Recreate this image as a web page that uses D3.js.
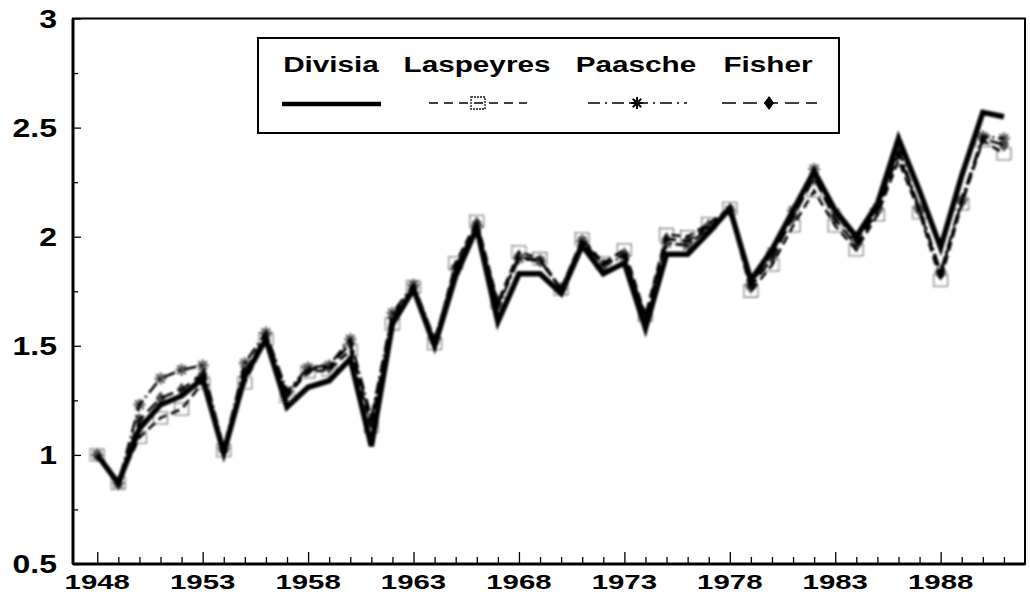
<!DOCTYPE html>
<html>
<head>
<meta charset="utf-8">
<script src="https://cdn.jsdelivr.net/npm/d3@7"></script>
<style>
  body { margin: 0; background: #fff; }
  svg { display: block; }
  text { font-family: 'Liberation Sans', Arial, sans-serif; font-weight: bold; fill: #000; }
</style>
</head>
<body>
<div id="graph"></div>
<script>
// data
var years = d3.range(1948, 1992);
var divisia = [1.00, 0.87, 1.12, 1.23, 1.27, 1.35, 1.01, 1.36, 1.53, 1.22,
  1.31, 1.34, 1.44, 1.04, 1.60, 1.76, 1.50, 1.82, 2.04, 1.61,
  1.83, 1.83, 1.74, 1.96, 1.83, 1.88, 1.58, 1.92, 1.92, 2.02,
  2.13, 1.80, 1.94, 2.12, 2.30, 2.12, 2.00, 2.15, 2.45, 2.21,
  1.95, 2.28, 2.57, 2.55];
var laspeyres = [1.00, 0.87, 1.08, 1.17, 1.21, 1.33, 1.02, 1.33, 1.53, 1.27,
  1.38, 1.39, 1.48, 1.13, 1.60, 1.77, 1.51, 1.88, 2.07, 1.70,
  1.93, 1.90, 1.76, 1.99, 1.88, 1.94, 1.64, 2.01, 2.00, 2.06,
  2.13, 1.75, 1.87, 2.05, 2.21, 2.05, 1.94, 2.10, 2.35, 2.11,
  1.80, 2.15, 2.44, 2.38];
var paasche = [1.00, 0.87, 1.23, 1.35, 1.39, 1.41, 1.03, 1.42, 1.56, 1.29,
  1.40, 1.41, 1.53, 1.17, 1.65, 1.78, 1.53, 1.85, 2.05, 1.68,
  1.90, 1.89, 1.76, 1.98, 1.87, 1.91, 1.63, 1.97, 1.96, 2.04,
  2.12, 1.78, 1.93, 2.12, 2.31, 2.11, 1.98, 2.13, 2.40, 2.13,
  1.84, 2.17, 2.46, 2.45];
var fisher = [1.00, 0.87, 1.16, 1.26, 1.30, 1.37, 1.02, 1.38, 1.55, 1.28,
  1.39, 1.40, 1.51, 1.15, 1.63, 1.77, 1.52, 1.86, 2.06, 1.69,
  1.91, 1.89, 1.76, 1.98, 1.87, 1.92, 1.63, 1.99, 1.98, 2.05,
  2.12, 1.77, 1.90, 2.09, 2.27, 2.08, 1.96, 2.12, 2.38, 2.12,
  1.83, 2.16, 2.45, 2.42];
var xTickLabels = [1948, 1953, 1958, 1963, 1968, 1973, 1978, 1983, 1988];
var yTickLabels = [0.5, 1, 1.5, 2, 2.5, 3];
var yMinorTicks = [0.75, 1.25, 1.75, 2.25, 2.75];
var seriesNames = ['Divisia', 'Laspeyres', 'Paasche', 'Fisher'];

(function() {
  'use strict';
  var W = 1030, H = 602,
    pLeft = 73, pRight = 1025, pTop = 18.5, pBottom = 564;

  var x = d3.scaleLinear().domain([1946.85, 1992.0]).range([pLeft, pRight]);
  var y = d3.scaleLinear().domain([0.5, 3]).range([pBottom, pTop]);

  var svg = d3.select('#graph').append('svg')
    .attr('width', W)
    .attr('height', H);

  svg.append('defs').append('filter').attr('id', 'smudge')
    .append('feGaussianBlur').attr('stdDeviation', 0.9);

  // ticks (inward)
  function noDomain(g) { g.select('.domain').remove(); }
  svg.append('g')
    .attr('transform', 'translate(0,' + pBottom + ')')
    .call(d3.axisBottom(x).tickValues(years.filter(function(d) { return (d - 1948) % 5 !== 0; }))
      .tickSize(-7).tickFormat(''))
    .call(noDomain);
  svg.append('g')
    .attr('transform', 'translate(0,' + pBottom + ')')
    .call(d3.axisBottom(x).tickValues(xTickLabels).tickSize(-12).tickFormat(''))
    .call(noDomain);
  svg.append('g')
    .attr('transform', 'translate(' + pLeft + ',0)')
    .call(d3.axisLeft(y).tickValues(yTickLabels).tickSize(-8).tickFormat(''))
    .call(noDomain);
  svg.append('g')
    .attr('transform', 'translate(' + pLeft + ',0)')
    .call(d3.axisLeft(y).tickValues(yMinorTicks).tickSize(-5).tickFormat(''))
    .call(noDomain);
  svg.selectAll('.tick line').attr('stroke', '#000').attr('stroke-width', 1.3);

  // frame
  svg.append('rect')
    .attr('x', pLeft).attr('y', pTop)
    .attr('width', pRight - pLeft).attr('height', pBottom - pTop)
    .attr('fill', 'none').attr('stroke', '#000').attr('stroke-width', 2);
  svg.append('line')
    .attr('x1', pLeft).attr('x2', pLeft).attr('y1', pTop).attr('y2', pBottom)
    .attr('stroke', '#000').attr('stroke-width', 3);
  svg.append('line')
    .attr('x1', pLeft).attr('x2', pRight).attr('y1', pBottom).attr('y2', pBottom)
    .attr('stroke', '#000').attr('stroke-width', 3);

  // tick labels
  svg.selectAll('text.xlab')
    .data(xTickLabels)
    .enter().append('text')
    .attr('class', 'xlab')
    .attr('text-anchor', 'middle')
    .attr('font-size', 21)
    .attr('transform', function(d) { return 'translate(' + x(d) + ',589) scale(1.4,1)'; })
    .text(function(d) { return d; });

  svg.selectAll('text.ylab')
    .data(yTickLabels)
    .enter().append('text')
    .attr('class', 'ylab')
    .attr('text-anchor', 'end')
    .attr('font-size', 25)
    .attr('transform', function(d) { return 'translate(57,' + (y(d) + 9) + ') scale(1.28,1)'; })
    .text(function(d) { return String(d); });

  // markers
  function square(g, cx, cy) {
    g.append('rect')
      .attr('x', cx - 7).attr('y', cy - 6)
      .attr('width', 14).attr('height', 12)
      .attr('fill', 'none').attr('stroke', '#111').attr('stroke-width', 1.3)
      .attr('stroke-dasharray', '2,1');
  }
  function asterisk(g, cx, cy) {
    var r = 6;
    [0, 45, 90, 135].forEach(function(a) {
      var rad = a * Math.PI / 180;
      g.append('line')
        .attr('x1', cx - r * Math.cos(rad)).attr('y1', cy - r * Math.sin(rad))
        .attr('x2', cx + r * Math.cos(rad)).attr('y2', cy + r * Math.sin(rad))
        .attr('stroke', '#000').attr('stroke-width', 2);
    });
  }
  function diamond(g, cx, cy) {
    g.append('path')
      .attr('d', 'M' + cx + ',' + (cy - 7) + 'L' + (cx + 5) + ',' + cy + 'L' + cx + ',' + (cy + 7) + 'L' + (cx - 5) + ',' + cy + 'Z')
      .attr('fill', '#000');
  }

  var line = d3.line()
    .x(function(d, i) { return x(years[i]); })
    .y(function(d) { return y(d); });

  var plot = svg.append('g').attr('filter', 'url(#smudge)');

  plot.append('path').datum(laspeyres)
    .attr('d', line).attr('fill', 'none')
    .attr('stroke', '#000').attr('stroke-width', 2.6).attr('stroke-dasharray', '9,5');
  plot.append('path').datum(paasche)
    .attr('d', line).attr('fill', 'none')
    .attr('stroke', '#000').attr('stroke-width', 2.6).attr('stroke-dasharray', '12,4,2,4');
  plot.append('path').datum(fisher)
    .attr('d', line).attr('fill', 'none')
    .attr('stroke', '#000').attr('stroke-width', 2.6).attr('stroke-dasharray', '13,6');
  plot.append('path').datum(divisia)
    .attr('d', line).attr('fill', 'none')
    .attr('stroke', '#000').attr('stroke-width', 5.5).attr('stroke-linejoin', 'miter');

  var mk = plot.append('g').attr('opacity', 0.7);
  laspeyres.forEach(function(v, i) { square(mk, x(years[i]), y(v)); });
  paasche.forEach(function(v, i) { asterisk(mk, x(years[i]), y(v)); });
  fisher.forEach(function(v, i) { diamond(mk, x(years[i]), y(v)); });

  // legend
  var lg = svg.append('g');
  lg.append('rect')
    .attr('x', 258).attr('y', 38).attr('width', 581).attr('height', 95)
    .attr('fill', '#fff').attr('stroke', '#000').attr('stroke-width', 2);

  var legendX = [331, 477, 636, 768];
  lg.selectAll('text.leg')
    .data(seriesNames)
    .enter().append('text')
    .attr('class', 'leg')
    .attr('text-anchor', 'middle')
    .attr('font-size', 22)
    .attr('transform', function(d, i) { return 'translate(' + legendX[i] + ',72) scale(1.35,1)'; })
    .text(function(d) { return d; });

  lg.append('line').attr('x1', 282).attr('x2', 381).attr('y1', 104).attr('y2', 104)
    .attr('stroke', '#000').attr('stroke-width', 4.5);
  lg.append('line').attr('x1', 429).attr('x2', 527).attr('y1', 103).attr('y2', 103)
    .attr('stroke', '#000').attr('stroke-width', 1.3).attr('stroke-dasharray', '9,6');
  square(lg, 478, 103);
  lg.append('line').attr('x1', 588).attr('x2', 687).attr('y1', 103).attr('y2', 103)
    .attr('stroke', '#000').attr('stroke-width', 1.3).attr('stroke-dasharray', '12,5,2,5');
  asterisk(lg, 637, 103);
  lg.append('line').attr('x1', 722).attr('x2', 817).attr('y1', 103).attr('y2', 103)
    .attr('stroke', '#000').attr('stroke-width', 1.3).attr('stroke-dasharray', '14,7');
  diamond(lg, 769, 103);
})();
</script>
</body>
</html>
